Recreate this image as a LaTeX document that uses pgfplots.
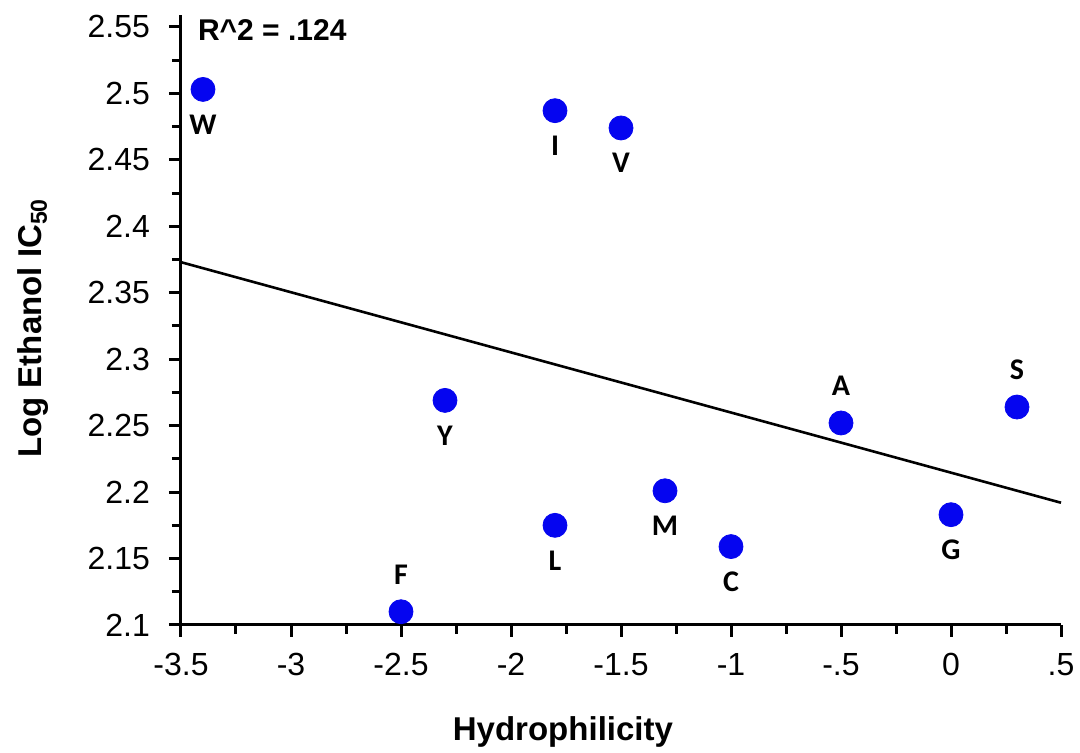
\documentclass[border=0pt]{standalone}
\usepackage{pgfplots}
\pgfplotsset{compat=1.18}
\usepackage{fontspec}
\setmainfont{Liberation Sans}
\newfontfamily\lblfont{Carlito}

\definecolor{ptblue}{RGB}{5,5,240}

% points labelled underneath the marker
\pgfplotstableread{
x     y      lab
-3.4  2.503  W
-1.8  2.487  I
-1.5  2.474  V
-2.3  2.269  Y
-1.3  2.201  M
-1.8  2.175  L
-1.0  2.159  C
0.0   2.183  G
}\below
% points labelled above the marker
\pgfplotstableread{
x     y      lab
-0.5  2.252  A
0.3   2.264  S
-2.5  2.110  F
}\above

\begin{document}
\begin{tikzpicture}
\begin{axis}[
  scale only axis,
  width=440pt, height=305pt,
  xmin=-3.5, xmax=0.5,
  ymin=2.1, ymax=2.559,
  axis lines=left,
  axis line style={line width=1.5pt, -},
  xtick={-3.5,-3,-2.5,-2,-1.5,-1,-0.5,0,0.5},
  xticklabels={-3.5,-3,-2.5,-2,-1.5,-1,-.5,0,.5},
  ytick={2.1,2.15,2.2,2.25,2.3,2.35,2.4,2.45,2.5,2.55},
  yticklabels={2.1,2.15,2.2,2.25,2.3,2.35,2.4,2.45,2.5,2.55},
  minor x tick num=1, minor y tick num=1,
  tick align=outside,
  major tick length=6pt, minor tick length=4.5pt,
  every tick/.style={black, line width=1.5pt},
  tick label style={font=\fontsize{16}{19}\selectfont},
  xticklabel style={yshift=-4.5pt},
  yticklabel style={xshift=-6pt},
  xlabel={\textbf{Hydrophilicity}},
  ylabel={\textbf{Log Ethanol IC\textsubscript{50}}},
  label style={font=\fontsize{16.5}{20}\selectfont},
  xlabel style={at={(axis description cs:0.434,-0.175)}, anchor=center},
  ylabel style={at={(axis description cs:-0.168,0.487)}, anchor=center},
  clip=false,
]
  % fitted regression line
  \addplot[black, line width=1.3pt] coordinates {(-3.5,2.373) (0.5,2.192)};

  \addplot[only marks, mark=*, mark size=6pt, color=ptblue,
    nodes near coords, point meta=explicit symbolic,
    every node near coord/.style={anchor=center, yshift=-17.5pt, black,
      font=\lblfont\bfseries\fontsize{15}{18}\selectfont}]
    table[x=x, y=y, meta=lab] {\below};
  \addplot[only marks, mark=*, mark size=6pt, color=ptblue,
    nodes near coords, point meta=explicit symbolic,
    every node near coord/.style={anchor=center, yshift=18.5pt, black,
      font=\lblfont\bfseries\fontsize{15}{18}\selectfont}]
    table[x=x, y=y, meta=lab] {\above};

  \node[anchor=west, font=\bfseries\fontsize{15}{18}\selectfont]
    at (axis cs:-3.5,2.548) {\hspace{5pt}R\textasciicircum 2 = .124};

  \coordinate (o) at (rel axis cs:0,0);
\end{axis}
\pgfresetboundingbox
\path (o) ++(-90.5pt,-64pt) rectangle ++(540pt,376.5pt);
\end{tikzpicture}
\end{document}
